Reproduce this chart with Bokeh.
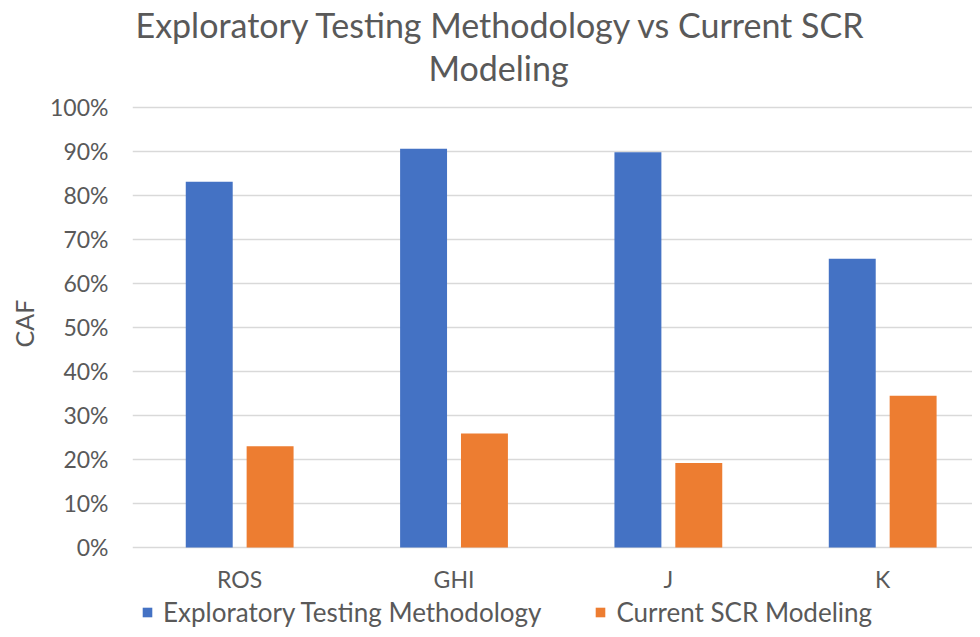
from bokeh.plotting import figure
from bokeh.models import (Range1d, FixedTicker, NumeralTickFormatter, Legend,
                          LegendItem, Title, ColumnDataSource)
from bokeh.core.properties import value
from bokeh.embed import file_html
from bokeh.resources import INLINE

# ---- data ----
categories = ["ROS", "GHI", "J", "K"]
exploratory = [0.831, 0.906, 0.898, 0.656]
current_scr = [0.230, 0.259, 0.192, 0.345]
series_names = ["Exploratory Testing Methodology", "Current SCR Modeling"]
y_ticks = [0.0, 0.1, 0.2, 0.3, 0.4, 0.5, 0.6, 0.7, 0.8, 0.9, 1.0]
title_lines = ["Exploratory Testing Methodology vs Current SCR", "Modeling"]
y_label = "CAF"

# ---- style ----
FONT = "Lato"
TEXT = "#595959"
BLUE = "#4472C4"
ORANGE = "#ED7D31"
GRID = "#D9D9D9"

centers = [i + 0.5 for i in range(len(categories))]
src = ColumnDataSource(dict(
    center=centers,
    label=categories,
    x_blue=[c - 0.142 for c in centers],
    x_orange=[c + 0.142 for c in centers],
    exploratory=exploratory,
    current=current_scr,
))

p = figure(width=972, height=629, output_backend="svg", toolbar_location=None,
           title=None, x_axis_location=None,
           x_range=Range1d(0, 3.919), y_range=Range1d(-0.1864, 1.0068),
           min_border_left=131, min_border_right=0, min_border_top=104,
           min_border_bottom=0)
p.outline_line_color = None
p.background_fill_color = "white"
p.border_fill_color = "white"

r1 = p.vbar(x="x_blue", top="exploratory", bottom=0, width=0.219, source=src,
            fill_color=BLUE, line_color=None)
r2 = p.vbar(x="x_orange", top="current", bottom=0, width=0.219, source=src,
            fill_color=ORANGE, line_color=None)

# category labels under the zero line
p.text(x="center", y=-0.071, text="label", source=src,
       text_font=value(FONT), text_font_size="23px", text_color=TEXT,
       text_align="center", text_baseline="middle")

# grid
p.xgrid.visible = False
p.ygrid.ticker = FixedTicker(ticks=y_ticks)
p.ygrid.grid_line_color = GRID
p.ygrid.grid_line_width = 1.5

# y axis
p.yaxis.ticker = FixedTicker(ticks=y_ticks)
p.yaxis.formatter = NumeralTickFormatter(format="0%")
p.yaxis.axis_line_color = None
p.yaxis.major_tick_line_color = None
p.yaxis.minor_tick_line_color = None
p.yaxis.major_label_standoff = 18
p.yaxis.major_label_text_font = FONT
p.yaxis.major_label_text_font_size = "23px"
p.yaxis.major_label_text_color = TEXT

# y axis title placed on the left side
t_y = Title(text=y_label, align="left", offset=282, text_font=FONT,
            text_font_size="25px", text_font_style="normal", text_color=TEXT,
            standoff=15, vertical_align="middle")
p.add_layout(t_y, "left")

# titles: spacer nearest the plot, then second line, then first line
spacer = Title(text=" ", text_font_size="1px", standoff=14)
t2 = Title(text=title_lines[1], align="left", offset=296, text_font=FONT,
           text_font_size="34px", text_font_style="normal", text_color=TEXT,
           standoff=0)
t1 = Title(text=title_lines[0], align="left", offset=3, text_font=FONT,
           text_font_size="34px", text_font_style="normal", text_color=TEXT,
           standoff=0)
p.add_layout(spacer, "above")
p.add_layout(t2, "above")
p.add_layout(t1, "above")

# legend at the bottom edge
legend = Legend(items=[LegendItem(label=series_names[0], renderers=[r1]),
                       LegendItem(label=series_names[1], renderers=[r2])],
                orientation="horizontal", location=(9, 1),
                label_text_font=FONT, label_text_font_size="26px",
                label_text_color=TEXT, glyph_width=12, glyph_height=12,
                label_standoff=10, spacing=53, padding=0, margin=0,
                border_line_color=None, background_fill_alpha=0)
p.add_layout(legend, "center")

open("out.html", "w").write(file_html(p, INLINE))
